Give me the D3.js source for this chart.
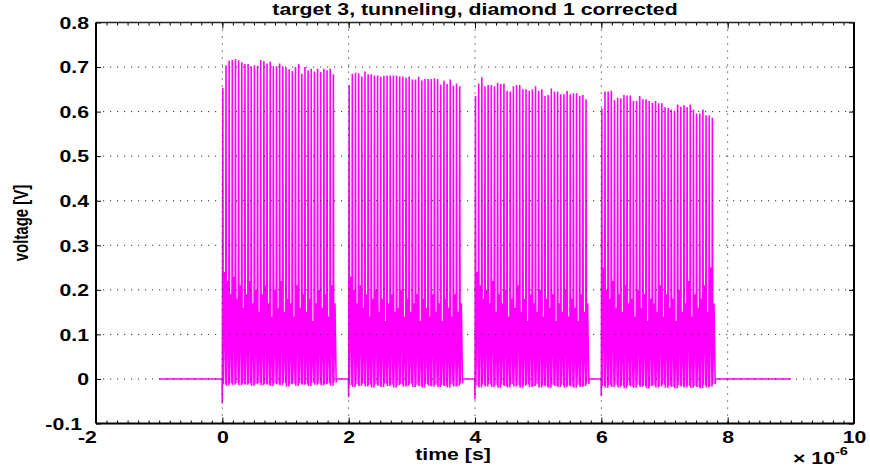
<!DOCTYPE html>
<html lang="en">
<head>
<meta charset="UTF-8">
<title>target 3, tunneling, diamond 1 corrected</title>
<script src="https://d3js.org/d3.v7.min.js"></script>
<style>
    body { margin: 0; background: #fff; }
    svg { display: block; }
    text { font-family: "Liberation Sans", Arial, sans-serif; font-weight: bold; fill: #000; }
    .tick line { stroke: #000; }
    .grid line { stroke: #333; stroke-dasharray: 1.2,5.8; }
    path.signal { fill: none; stroke: #ff00ff; stroke-width: 1.6; stroke-linejoin: miter; stroke-miterlimit: 2; }
</style>
</head>
<body>
<svg width="870" height="466"></svg>
<script>
// tick labels
const xTicks = [-2, 0, 2, 4, 6, 8, 10];
const xTickLabels = ['-2', '0', '2', '4', '6', '8', '10'];
const yTicks = [-0.1, 0, 0.1, 0.2, 0.3, 0.4, 0.5, 0.6, 0.7, 0.8];
const yTickLabels = ['-0.1', '0', '0.1', '0.2', '0.3', '0.4', '0.5', '0.6', '0.7', '0.8'];

// signal: time in units of 1e-6 s, voltage in V
const traceStart = -1;
const traceEnd = 9;
const burstStart = [0, 2, 4, 6];
const burstDip = [-0.055, -0.041, -0.046, -0.038];
const period = 0.05;

const peaks1 = [0.653, 0.704, 0.714, 0.716, 0.718, 0.715, 0.711, 0.707, 0.707, 0.701, 0.704, 0.703, 0.716, 0.713, 0.708, 0.712, 0.702, 0.702,
                0.708, 0.702, 0.699, 0.695, 0.691, 0.700, 0.707, 0.685, 0.700, 0.692, 0.696, 0.690, 0.696, 0.689, 0.696, 0.693, 0.696, 0.684];
const peaks2 = [0.659, 0.685, 0.687, 0.686, 0.679, 0.690, 0.684, 0.684, 0.681, 0.681, 0.678, 0.680, 0.681, 0.681, 0.681, 0.681, 0.679, 0.679,
                0.676, 0.679, 0.672, 0.672, 0.678, 0.670, 0.674, 0.673, 0.673, 0.675, 0.673, 0.661, 0.669, 0.662, 0.672, 0.658, 0.663, 0.657];
const peaks3 = [0.635, 0.663, 0.677, 0.657, 0.660, 0.660, 0.657, 0.665, 0.662, 0.663, 0.647, 0.645, 0.657, 0.660, 0.660, 0.650, 0.650, 0.647,
                0.650, 0.657, 0.647, 0.650, 0.635, 0.637, 0.652, 0.645, 0.645, 0.639, 0.639, 0.646, 0.639, 0.641, 0.641, 0.635, 0.637, 0.628];
const peaks4 = [0.607, 0.645, 0.645, 0.647, 0.626, 0.631, 0.630, 0.637, 0.636, 0.636, 0.624, 0.624, 0.635, 0.628, 0.628, 0.624, 0.620, 0.624,
                0.619, 0.619, 0.610, 0.608, 0.605, 0.602, 0.616, 0.611, 0.614, 0.610, 0.616, 0.604, 0.596, 0.596, 0.605, 0.592, 0.592, 0.586];

const troughs1 = [-0.012, -0.015, -0.010, -0.013, -0.009, -0.014, -0.011, -0.013, -0.010, -0.015, -0.012, -0.009, -0.014, -0.011, -0.013, -0.016, -0.010, -0.012,
                  -0.014, -0.009, -0.017, -0.012, -0.011, -0.015, -0.010, -0.013, -0.012, -0.016, -0.009, -0.013, -0.011, -0.014, -0.012, -0.010, -0.015, -0.008];
const troughs2 = [-0.014, -0.018, -0.012, -0.016, -0.011, -0.017, -0.013, -0.019, -0.012, -0.015, -0.018, -0.011, -0.016, -0.013, -0.019, -0.014, -0.012, -0.017,
                  -0.015, -0.011, -0.018, -0.013, -0.016, -0.019, -0.012, -0.015, -0.017, -0.013, -0.018, -0.014, -0.016, -0.019, -0.012, -0.017, -0.015, -0.010];
const troughs3 = [-0.015, -0.019, -0.013, -0.017, -0.012, -0.018, -0.014, -0.020, -0.013, -0.016, -0.019, -0.012, -0.017, -0.014, -0.020, -0.015, -0.013, -0.018,
                  -0.016, -0.012, -0.019, -0.014, -0.017, -0.020, -0.013, -0.016, -0.018, -0.014, -0.019, -0.015, -0.017, -0.020, -0.013, -0.018, -0.016, -0.011];
const troughs4 = [-0.016, -0.020, -0.014, -0.018, -0.013, -0.019, -0.015, -0.021, -0.014, -0.017, -0.020, -0.013, -0.018, -0.015, -0.021, -0.016, -0.014, -0.019,
                  -0.017, -0.013, -0.020, -0.015, -0.018, -0.021, -0.014, -0.017, -0.019, -0.015, -0.020, -0.016, -0.018, -0.021, -0.014, -0.019, -0.017, -0.012];

const rings1 = [0.24, 0.22, 0.19, 0.23, 0.18, 0.21, 0.16, 0.19, 0.22, 0.17, 0.20, 0.15, 0.19, 0.21, 0.17, 0.14, 0.20, 0.16,
                0.22, 0.15, 0.18, 0.17, 0.14, 0.21, 0.16, 0.19, 0.15, 0.18, 0.13, 0.17, 0.20, 0.16, 0.19, 0.14, 0.21, 0.17];
const rings2 = [0.23, 0.20, 0.17, 0.21, 0.16, 0.19, 0.14, 0.18, 0.20, 0.15, 0.18, 0.13, 0.17, 0.19, 0.15, 0.16, 0.20, 0.14,
                0.18, 0.15, 0.17, 0.19, 0.13, 0.18, 0.16, 0.14, 0.19, 0.15, 0.17, 0.13, 0.18, 0.16, 0.14, 0.19, 0.15, 0.17];
const rings3 = [0.24, 0.21, 0.18, 0.20, 0.17, 0.22, 0.15, 0.19, 0.17, 0.20, 0.14, 0.18, 0.16, 0.21, 0.15, 0.18, 0.13, 0.19,
                0.17, 0.15, 0.20, 0.14, 0.18, 0.16, 0.19, 0.13, 0.17, 0.15, 0.20, 0.14, 0.18, 0.16, 0.13, 0.19, 0.15, 0.17];
const rings4 = [0.25, 0.20, 0.18, 0.22, 0.16, 0.19, 0.15, 0.21, 0.17, 0.18, 0.14, 0.20, 0.16, 0.19, 0.13, 0.18, 0.17, 0.15,
                0.21, 0.14, 0.19, 0.16, 0.18, 0.13, 0.20, 0.15, 0.17, 0.22, 0.14, 0.19, 0.16, 0.18, 0.21, 0.15, 0.25, 0.17];

const peaks = [peaks1, peaks2, peaks3, peaks4];
const troughs = [troughs1, troughs2, troughs3, troughs4];
const rings = [rings1, rings2, rings3, rings4];

// build the sample list from the arrays above
let samples = [[traceStart, 0]];
burstStart.forEach(function (s, b) {
    samples.push([s - 0.004, 0]);
    samples.push([s, burstDip[b]]);
    peaks[b].forEach(function (p, i) {
        let t = s + 0.008 + i * period;
        samples.push([t, p]);
        samples.push([t + 0.006, troughs[b][i]]);
        samples.push([t + 0.025, rings[b][i]]);
        samples.push([t + 0.044, troughs[b][i]]);
    });
    samples.push([s + 0.008 + peaks[b].length * period, 0]);
});
samples.push([traceEnd, 0]);

let svg = d3.select('svg');
let margins = {left: 96, right: 854, top: 22.5, bottom: 423.5};
let sx = 1.33; // horizontal stretch of the text

let xscale = d3.scaleLinear().domain([-2, 10]).range([margins.left, margins.right]);
let yscale = d3.scaleLinear().domain([-0.1, 0.8]).range([margins.bottom, margins.top]);

// signal
let line = d3.line()
    .x(function (d) { return xscale(d[0]); })
    .y(function (d) { return yscale(d[1]); });
svg.append('path').datum(samples).attr('class', 'signal').attr('d', line);

// grid (drawn over the data)
let grid = svg.append('g').attr('class', 'grid');
grid.selectAll('line.gx').data(xTicks.slice(1, -1)).enter().append('line')
    .attr('x1', function (d) { return xscale(d); }).attr('x2', function (d) { return xscale(d); })
    .attr('y1', margins.top).attr('y2', margins.bottom);
grid.selectAll('line.gy').data(yTicks.slice(1, -1)).enter().append('line')
    .attr('x1', margins.left).attr('x2', margins.right)
    .attr('y1', function (d) { return yscale(d); }).attr('y2', function (d) { return yscale(d); });

// minor x ticks
let minor = d3.range(-2, 10.0001, 1 / 6);
svg.append('g').attr('transform', 'translate(0,' + margins.bottom + ')')
    .call(d3.axisBottom(xscale).tickValues(minor).tickSize(-3).tickFormat(''))
    .call(function (g) { g.select('.domain').remove(); });
svg.append('g').attr('transform', 'translate(0,' + margins.top + ')')
    .call(d3.axisTop(xscale).tickValues(minor).tickSize(-3).tickFormat(''))
    .call(function (g) { g.select('.domain').remove(); });

// major axes
let xAxis = svg.append('g').attr('transform', 'translate(0,' + margins.bottom + ')')
    .call(d3.axisBottom(xscale).tickValues(xTicks).tickSize(-6)
        .tickFormat(function (d, i) { return xTickLabels[i]; }));
xAxis.select('.domain').remove();
xAxis.selectAll('text')
    .attr('y', 19.7).attr('dy', null)
    .attr('font-size', 16)
    .attr('text-anchor', 'middle')
    .attr('x', function (d) { return d < 0 ? -9 / sx : 0; })
    .attr('transform', 'scale(' + sx + ',1)');

svg.append('g').attr('transform', 'translate(0,' + margins.top + ')')
    .call(d3.axisTop(xscale).tickValues(xTicks).tickSize(-6).tickFormat(''))
    .call(function (g) { g.select('.domain').remove(); });

let yAxis = svg.append('g').attr('transform', 'translate(' + margins.left + ',0)')
    .call(d3.axisLeft(yscale).tickValues(yTicks).tickSize(-5)
        .tickFormat(function (d, i) { return yTickLabels[i]; }));
yAxis.select('.domain').remove();
yAxis.selectAll('text')
    .attr('dy', null).attr('y', 5.8)
    .attr('font-size', 16)
    .attr('text-anchor', 'end')
    .attr('x', function (d) { return d < 0 ? -14 / sx : -7 / sx; })
    .attr('transform', 'scale(' + sx + ',1)');

svg.append('g').attr('transform', 'translate(' + margins.right + ',0)')
    .call(d3.axisRight(yscale).tickValues(yTicks).tickSize(-5).tickFormat(''))
    .call(function (g) { g.select('.domain').remove(); });

// box
svg.append('line').attr('x1', margins.left).attr('x2', margins.right)
    .attr('y1', margins.top).attr('y2', margins.top).attr('stroke', '#222').attr('stroke-width', 1.3);
svg.append('line').attr('x1', margins.left).attr('x2', margins.right)
    .attr('y1', margins.bottom).attr('y2', margins.bottom).attr('stroke', '#000').attr('stroke-width', 2);
svg.append('line').attr('x1', margins.left).attr('x2', margins.left)
    .attr('y1', margins.top).attr('y2', margins.bottom).attr('stroke', '#000').attr('stroke-width', 2);
svg.append('line').attr('x1', margins.right).attr('x2', margins.right)
    .attr('y1', margins.top).attr('y2', margins.bottom).attr('stroke', '#000').attr('stroke-width', 2);

// title and labels
svg.append('text')
    .attr('transform', 'translate(' + (margins.left + margins.right) / 2 + ',15) scale(' + sx + ',1)')
    .attr('text-anchor', 'middle').attr('font-size', 16)
    .text('target 3, tunneling, diamond 1 corrected');

svg.append('text')
    .attr('transform', 'translate(453,460) scale(' + sx + ',1)')
    .attr('text-anchor', 'middle').attr('font-size', 16)
    .text('time [s]');

svg.append('text')
    .attr('transform', 'translate(28,' + (margins.top + margins.bottom) / 2 + ') rotate(-90) scale(1,' + sx + ')')
    .attr('text-anchor', 'middle').attr('font-size', 15)
    .text('voltage [V]');

let expo = svg.append('text')
    .attr('transform', 'translate(793,464) scale(' + sx + ',1)')
    .attr('font-size', 16);
expo.append('tspan').text('\u00d7 10');
expo.append('tspan').attr('font-size', 11).attr('dy', -9).text('-6');
</script>
</body>
</html>
